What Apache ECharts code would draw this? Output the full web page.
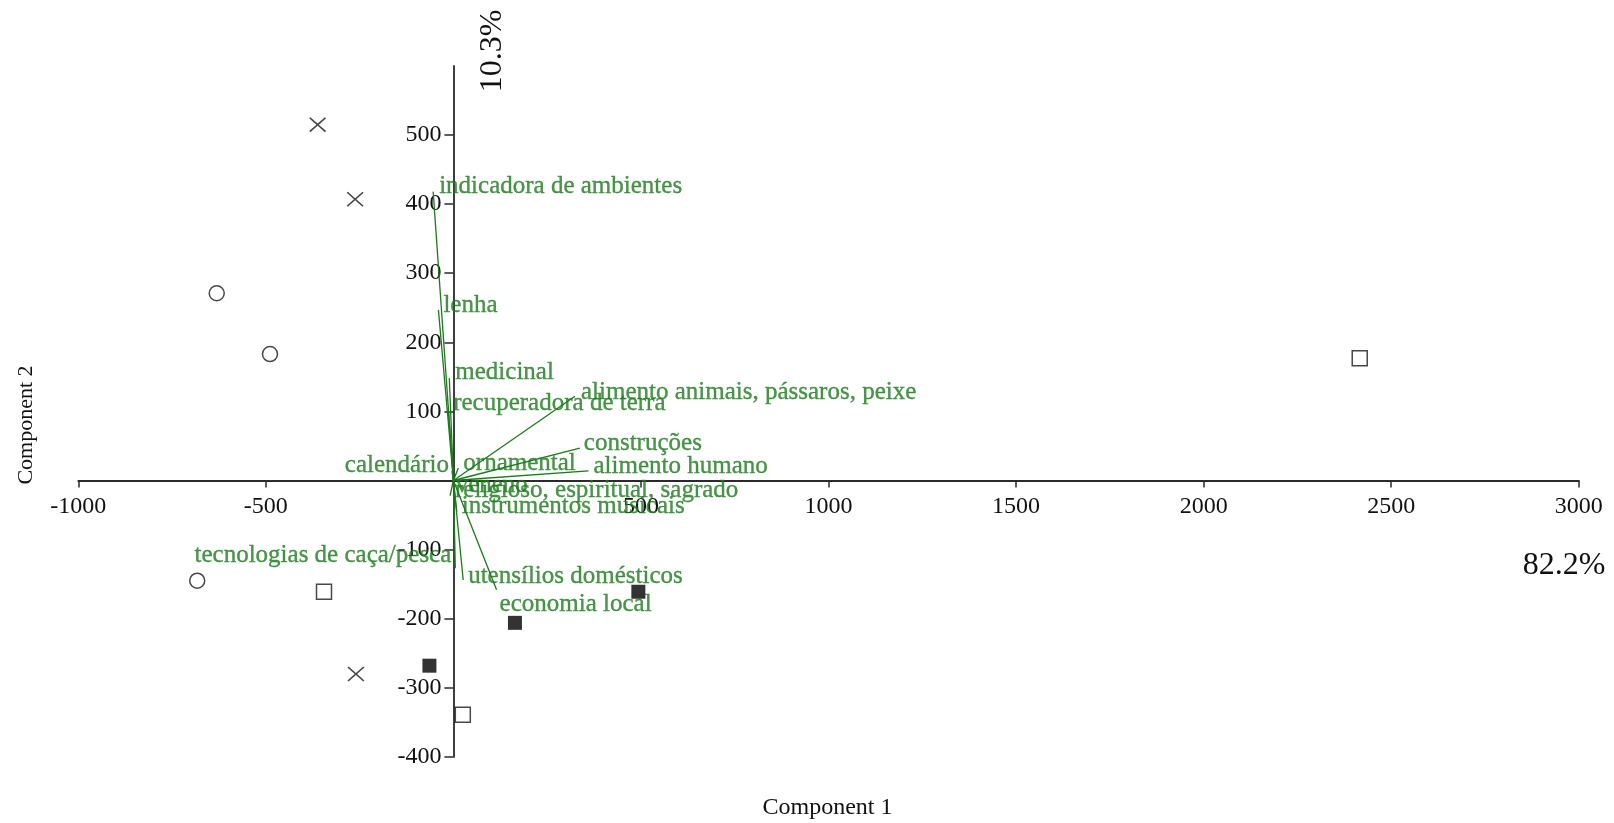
<!DOCTYPE html>
<html>
<head>
<meta charset="utf-8">
<script src="https://cdn.jsdelivr.net/npm/echarts@6/dist/echarts.min.js"></script>
<style>
  html, body { margin: 0; padding: 0; background: #fff; }
  #chart { width: 1614px; height: 823px; }
</style>
</head>
<body>
<div id="chart"></div>
<script>
// ---------------- DATA ----------------
// Scores (objects), grouped by marker type
const crossPts        = [[-362, 515], [-262, 407], [-260, -280]];
const circlePts       = [[-631, 271], [-489, 183], [-683, -145]];
const openSquarePts   = [[2416, 177], [-345, -161], [25, -339]];
const filledSquarePts = [[493, -161], [164, -206], [-64, -268]];

// Loadings (variables) as biplot vectors
const vectorNames = [
  'indicadora de ambientes', 'lenha', 'medicinal', 'recuperadora de terra',
  'alimento animais, pássaros, peixe', 'construções', 'alimento humano',
  'ornamental', 'calendário', 'veneno', 'religioso, espiritual, sagrado',
  'instrumentos musicais', 'tecnologias de caça/pesca', 'utensílios domésticos',
  'economia local'
];
const vectorX = [-54, -40, -11, -14, 324, 337, 360, 13, -4, -2, -9, 9, 5, 26, 115];
const vectorY = [418, 247, 148, 105, 122, 47, 14, 18, 14, -8, -22, -45, -127, -144, -158];

// Axis ticks / labels
const xTickValues = [-1000, -500, 500, 1000, 1500, 2000, 2500, 3000];
const yTickValues = [-400, -300, -200, -100, 100, 200, 300, 400, 500];

// Axis titles and explained variance
const xTitle = 'Component 1';
const yTitle = 'Component 2';
const xVariance = '82.2%';
const yVariance = '10.3%';

// ---------------- STYLE / LAYOUT ----------------
const FONT = '"Liberation Serif", "Times New Roman", serif';
const GREEN = '#1b7b1b';
const AXIS = '#2a2a2a';
const GRID = { left: 78.3, right: 35.2, top: 65.9, bottom: 66.1 };
const W = 1614, H = 823;
const X_MIN = -1000, X_MAX = 3000, Y_MIN = -400, Y_MAX = 600;
// place the axes through the origin (like the reference) via axis offsets
const plotW = W - GRID.left - GRID.right, plotH = H - GRID.top - GRID.bottom;
const yAxisOffset = -((0 - X_MIN) / (X_MAX - X_MIN) * plotW);
const xAxisOffset = -((0 - Y_MIN) / (Y_MAX - Y_MIN) * plotH);

// label placement relative to each vector end: [dx, dy, align]
const labelPlacement = {
  'indicadora de ambientes': [6, -5, 'left'],
  'lenha': [5, -4, 'left'],
  'medicinal': [6, -6, 'left'],
  'recuperadora de terra': [5, -5, 'left'],
  'alimento animais, pássaros, peixe': [6, -4, 'left'],
  'construções': [4, -5, 'left'],
  'alimento humano': [5, -4, 'left'],
  'ornamental': [5, -5, 'left'],
  'calendário': [-3, -5, 'right'],
  'veneno': [3, -1, 'left'],
  'religioso, espiritual, sagrado': [5, -5, 'left'],
  'instrumentos musicais': [5, -5, 'left'],
  'tecnologias de caça/pesca': [-4, -13, 'right'],
  'utensílios domésticos': [5, -4, 'left'],
  'economia local': [3, 15, 'left']
};

const crossSymbol = 'path://M0,7L7,0L50,43L93,0L100,7L57,50L100,93L93,100L50,57L7,100L0,93L43,50Z';

const chart = echarts.init(document.getElementById('chart'), null, { renderer: 'canvas' });

const vectorLines = vectorNames.map((n, i) => ({ coords: [[0, 0], [vectorX[i], vectorY[i]]] }));
const vectorLabels = vectorNames.map((n, i) => {
  const p = labelPlacement[n] || [5, -5, 'left'];
  return {
    name: n,
    value: [vectorX[i], vectorY[i]],
    label: { show: true, position: 'inside', align: p[2], verticalAlign: 'middle', offset: [p[0], p[1]] }
  };
});

const numFmt = v => String(v);

const option = {
  animation: false,
  backgroundColor: '#ffffff',
  grid: { left: GRID.left, right: GRID.right, top: GRID.top, bottom: GRID.bottom, containLabel: false, outerBoundsMode: 'none' },
  xAxis: {
    type: 'value', min: X_MIN, max: X_MAX, interval: 500,
    position: 'bottom', offset: xAxisOffset,
    splitLine: { show: false },
    axisLine: { onZero: false, lineStyle: { color: AXIS, width: 1.8 } },
    axisTick: { show: true, length: 7, lineStyle: { color: AXIS, width: 1.5 }, customValues: xTickValues },
    axisLabel: { customValues: xTickValues, formatter: numFmt, margin: 14, color: '#111', fontFamily: FONT, fontSize: 24 }
  },
  yAxis: {
    type: 'value', min: Y_MIN, max: Y_MAX, interval: 100,
    position: 'left', offset: yAxisOffset,
    splitLine: { show: false },
    axisLine: { onZero: false, lineStyle: { color: AXIS, width: 1.8 } },
    axisTick: { show: true, length: 9, lineStyle: { color: AXIS, width: 1.5 }, customValues: yTickValues },
    axisLabel: { customValues: yTickValues, formatter: numFmt, margin: 12, color: '#111', fontFamily: FONT, fontSize: 24 }
  },
  graphic: [
    { type: 'text', x: 827.5, y: 808, style: { text: xTitle, font: '24px ' + FONT, fill: '#111', textAlign: 'center', textVerticalAlign: 'middle' } },
    { type: 'text', x: 26, y: 425, rotation: Math.PI / 2, style: { text: yTitle, font: '22px ' + FONT, fill: '#111', textAlign: 'center', textVerticalAlign: 'middle' } },
    { type: 'text', x: 493, y: 51, rotation: Math.PI / 2, style: { text: yVariance, font: '32px ' + FONT, fill: '#111', textAlign: 'center', textVerticalAlign: 'middle' } },
    { type: 'text', x: 1564, y: 566, style: { text: xVariance, font: '32px ' + FONT, fill: '#111', textAlign: 'center', textVerticalAlign: 'middle' } }
  ],
  series: [
    {
      type: 'lines', coordinateSystem: 'cartesian2d', polyline: false, silent: true, z: 3,
      lineStyle: { color: GREEN, width: 1.3, opacity: 1 },
      data: vectorLines
    },
    {
      type: 'scatter', symbolSize: 0, silent: true, z: 4,
      label: { show: true, formatter: '{b}', color: GREEN, fontFamily: FONT, fontSize: 25, textBorderColor: GREEN, textBorderWidth: 0.35 },
      data: vectorLabels
    },
    {
      type: 'scatter', data: crossPts, symbol: crossSymbol, symbolSize: [17, 15], z: 5,
      itemStyle: { color: '#1a1a1a' }
    },
    {
      type: 'scatter', data: circlePts, symbol: 'circle', symbolSize: 15, z: 5,
      itemStyle: { color: '#ffffff', borderColor: '#1a1a1a', borderWidth: 1.5 }
    },
    {
      type: 'scatter', data: openSquarePts, symbol: 'rect', symbolSize: 15, z: 5,
      itemStyle: { color: '#ffffff', borderColor: '#1a1a1a', borderWidth: 1.5 }
    },
    {
      type: 'scatter', data: filledSquarePts, symbol: 'rect', symbolSize: 14, z: 5,
      itemStyle: { color: '#000000' }
    }
  ]
};
chart.setOption(option);
</script>
</body>
</html>
